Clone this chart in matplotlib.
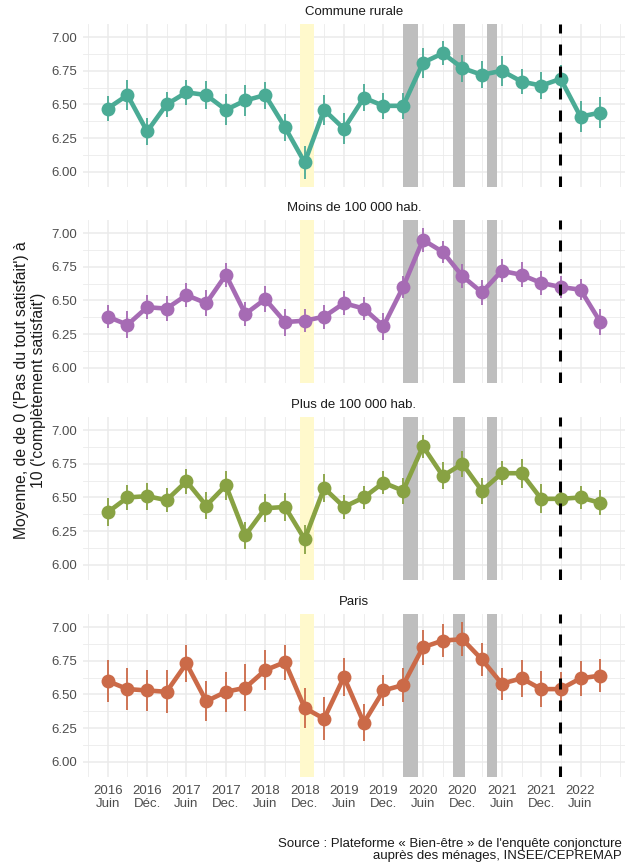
import pandas as pd
import matplotlib
matplotlib.use("Agg")
import matplotlib.pyplot as plt

plt.rcParams['font.family'] = ['Liberation Sans', 'DejaVu Sans']

# quarterly survey waves, June 2016 -> September 2022
dates = pd.date_range('2016-06-01', '2022-09-01', freq='3MS')

panels = ['Commune rurale', 'Moins de 100 000 hab.', 'Plus de 100 000 hab.', 'Paris']
colors = ['#4AAB95', '#A66BB4', '#88A243', '#CB6A48']

rural = [6.47, 6.57, 6.30, 6.50, 6.59, 6.57, 6.46, 6.53, 6.57, 6.33, 6.07, 6.46, 6.32,
         6.55, 6.49, 6.49, 6.81, 6.88, 6.77, 6.72, 6.75, 6.67, 6.64, 6.69, 6.41, 6.44]
rural_err = [0.095, 0.11, 0.10, 0.09, 0.095, 0.105, 0.115, 0.115, 0.10, 0.10, 0.125, 0.11, 0.115,
             0.10, 0.095, 0.095, 0.11, 0.09, 0.10, 0.10, 0.11, 0.095, 0.10, 0.10, 0.115, 0.115]

moins = [6.38, 6.32, 6.45, 6.44, 6.54, 6.48, 6.69, 6.40, 6.51, 6.34, 6.35, 6.38, 6.48,
         6.44, 6.31, 6.60, 6.95, 6.86, 6.68, 6.56, 6.72, 6.69, 6.63, 6.60, 6.58, 6.34]
moins_err = [0.085, 0.10, 0.09, 0.09, 0.087, 0.095, 0.087, 0.09, 0.097, 0.10, 0.085, 0.09, 0.09,
             0.087, 0.10, 0.085, 0.09, 0.08, 0.087, 0.09, 0.085, 0.093, 0.09, 0.08, 0.08, 0.097]

plus = [6.39, 6.50, 6.51, 6.48, 6.62, 6.44, 6.59, 6.22, 6.42, 6.43, 6.19, 6.57, 6.43,
        6.50, 6.61, 6.55, 6.88, 6.66, 6.75, 6.55, 6.68, 6.68, 6.49, 6.49, 6.50, 6.46]
plus_err = [0.105, 0.093, 0.10, 0.09, 0.093, 0.10, 0.105, 0.10, 0.105, 0.104, 0.107, 0.105, 0.087,
            0.087, 0.083, 0.095, 0.087, 0.10, 0.097, 0.097, 0.09, 0.108, 0.107, 0.093, 0.084, 0.093]

paris = [6.60, 6.54, 6.53, 6.52, 6.73, 6.45, 6.52, 6.55, 6.68, 6.74, 6.40, 6.32, 6.63,
         6.29, 6.53, 6.57, 6.85, 6.90, 6.91, 6.76, 6.58, 6.62, 6.54, 6.54, 6.62, 6.64]
paris_err = [0.157, 0.155, 0.149, 0.16, 0.14, 0.15, 0.149, 0.174, 0.149, 0.13, 0.148, 0.158, 0.14,
             0.137, 0.118, 0.128, 0.13, 0.12, 0.128, 0.12, 0.118, 0.136, 0.136, 0.128, 0.13, 0.12]

values = [rural, moins, plus, paris]
errors = [rural_err, moins_err, plus_err, paris_err]

# events: gilets jaunes (yellow), lockdowns (grey), start of the war in Ukraine (dashed)
yellow_span = ('2018-11-08', '2019-01-12')
grey_spans = [('2020-03-01', '2020-05-11'), ('2020-10-17', '2020-12-15'), ('2021-03-27', '2021-05-08')]
vline_date = '2022-02-24'

tick_dates = pd.date_range('2016-06-01', '2022-06-01', freq='6MS')
tick_labels = ['2016\nJuin', '2016\nDéc.', '2017\nJuin', '2017\nDec.', '2018\nJuin', '2018\nDec.',
               '2019\nJuin', '2019\nDec.', '2020\nJuin', '2020\nDec.', '2021\nJuin', '2021\nDec.',
               '2022\nJuin']
minor_dates = [d for d in pd.date_range('2016-03-01', '2022-12-01', freq='3MS') if d not in tick_dates]

W, H = 627, 866
fig = plt.figure(figsize=(W / 100, H / 100), dpi=100)

span = dates[-1] - dates[0]
xmin, xmax = dates[0] - span * 0.05, dates[-1] + span * 0.05

left, right = 83, 625
tops = [24, 220, 417, 614]
ph = 163

for i in range(4):
    ax = fig.add_axes([left / W, 1 - (tops[i] + ph) / H, (right - left) / W, ph / H])
    ax.set_xlim(xmin, xmax)
    ax.set_ylim(5.888, 7.097)

    for s in ax.spines.values():
        s.set_visible(False)
    ax.set_yticks([6.0, 6.25, 6.5, 6.75, 7.0])
    ax.set_yticks([6.125, 6.375, 6.625, 6.875], minor=True)
    ax.set_xticks(tick_dates)
    ax.set_xticks(minor_dates, minor=True)
    ax.grid(which='major', color='#EBEBEB', lw=1.1)
    ax.grid(which='minor', color='#EBEBEB', lw=0.6)
    ax.set_axisbelow(True)
    ax.tick_params(which='both', length=0, labelsize=9.5, labelcolor='#4D4D4D', pad=4)
    ax.tick_params(axis='x', pad=6)
    ax.set_yticklabels(['6.00', '6.25', '6.50', '6.75', '7.00'])
    if i == 3:
        ax.set_xticklabels(tick_labels, linespacing=1.1)
    else:
        ax.set_xticklabels([])

    ax.axvspan(pd.Timestamp(yellow_span[0]), pd.Timestamp(yellow_span[1]),
               color='#FFF9CC', lw=0, zorder=1)
    for a, b in grey_spans:
        ax.axvspan(pd.Timestamp(a), pd.Timestamp(b), color='#BEBEBE', lw=0, zorder=1)

    c = colors[i]
    ax.errorbar(dates, values[i], yerr=errors[i], fmt='none', ecolor=c, elinewidth=1.3,
                capsize=0, zorder=3)
    ax.plot(dates, values[i], color=c, lw=3.3, zorder=4, solid_joinstyle='round')
    ax.plot(dates, values[i], 'o', color=c, ms=10, mew=0, zorder=5)

    ax.axvline(pd.Timestamp(vline_date), color='black', lw=2.2, ls=(0, (3.6, 3.6)), zorder=6)

    fig.text((left + right) / 2 / W, 1 - (tops[i] - 12) / H, panels[i],
             ha='center', va='center', fontsize=9.5, color='#1A1A1A')

fig.text(30 / W, 1 - 390 / H,
         "Moyenne, de de 0 ('Pas du tout satisfait') à\n10 ('complètement satisfait')",
         rotation=90, ha='center', va='center', fontsize=11.3, color='#1A1A1A',
         multialignment='center', linespacing=1.1)

fig.text(622 / W, 1 - 850 / H,
         "Source : Plateforme « Bien-être » de l'enquête conjoncture\nauprès des ménages, INSEE/CEPREMAP",
         ha='right', va='center', fontsize=9.5, color='#1A1A1A', multialignment='right',
         linespacing=1.1)

fig.savefig('out.png', dpi=100)
